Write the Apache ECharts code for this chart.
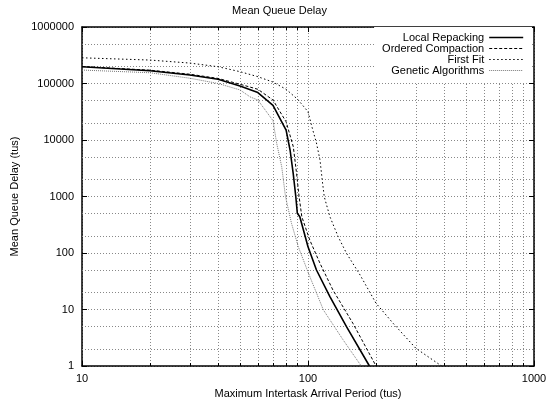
<!DOCTYPE html>
<html>
<head>
<meta charset="utf-8">
<script src="https://cdn.jsdelivr.net/npm/echarts@6/dist/echarts.min.js"></script>
<style>
  html, body { margin: 0; padding: 0; background: #fff; }
  #main { width: 559px; height: 408px; }
</style>
</head>
<body>
<div id="main"></div>
<script>
// values (log-log)
var seriesNames = ['Local Repacking', 'Ordered Compaction', 'First Fit', 'Genetic Algorithms'];

var localX = [10, 20, 30, 40, 50, 60, 70, 80, 83.3, 86, 88.3, 89.7, 92, 100, 109, 125, 148, 187];
var localY = [198000, 168000, 141000, 119000, 90000, 69000, 41000, 15000, 6650, 2570, 1000, 505, 439, 129, 50, 16.9, 4.96, 1];

var orderedX = [10, 20, 30, 40, 50, 60, 70, 80, 86.1, 89, 91.3, 93.9, 101.8, 113, 129, 158, 200];
var orderedY = [200000, 172000, 146000, 123000, 97000, 79000, 51000, 21000, 7600, 2570, 1000, 439, 170, 65.6, 22, 5.7, 1];

var firstFitX = [10, 20, 30, 40, 50, 60, 70, 80, 90, 100, 105, 109, 113, 116, 118, 125, 136, 148, 170, 200, 238, 300, 390];
var firstFitY = [285000, 260000, 230000, 198000, 162000, 132000, 106000, 79000, 52500, 31700, 15000, 8850, 4420, 1730, 991, 439, 194, 99, 40.8, 12.9, 5.7, 2.06, 1];

var geneticX = [10, 20, 30, 40, 50, 55.4, 60, 70, 72.7, 76.5, 79.5, 84.5, 90.6, 100.5, 117, 143, 172];
var geneticY = [173000, 155000, 124000, 100000, 77000, 58000, 51000, 22000, 8700, 3370, 1000, 336, 129, 43.7, 9.8, 2.9, 1];

// minor grid values on the y axis (2 and 5 of each decade)
var yMinorGrid = [2, 5, 20, 50, 200, 500, 2000, 5000, 20000, 50000, 200000, 500000];

function pairs(xs, ys) {
  return xs.map(function (x, i) { return [x, ys[i]]; });
}

var myChart = echarts.init(document.getElementById('main'), null, { renderer: 'canvas' });

var font = 'Liberation Sans, Arial, sans-serif';
var gridLine = { color: '#888', width: 1, type: [1, 2] };

function logAxis(pos, min, max, split, show) {
  return {
    type: 'log',
    logBase: 10,
    position: pos,
    min: min,
    max: max,
    splitNumber: split,
    axisLine: { show: true, onZero: false, lineStyle: { color: '#000', width: 1.5 } },
    axisTick: { show: true, inside: true, length: 5, lineStyle: { color: '#000' } },
    axisLabel: {
      show: show,
      color: '#000',
      fontFamily: font,
      fontSize: 11,
      formatter: function (v) { return String(v); }
    },
    splitLine: { show: show, lineStyle: gridLine }
  };
}

var xBottom = logAxis('bottom', 10, 1000, 2, true);
xBottom.minorTick = { show: true, splitNumber: 9, length: 3, lineStyle: { color: '#000' } };
xBottom.minorSplitLine = { show: true, lineStyle: gridLine };
xBottom.name = 'Maximum Intertask Arrival Period (tus)';
xBottom.nameLocation = 'middle';
xBottom.nameGap = 20;
xBottom.nameTextStyle = { color: '#000', fontFamily: font, fontSize: 11 };
xBottom.axisLabel.margin = 7;

var xTop = logAxis('top', 10, 1000, 2, false);
xTop.minorTick = { show: true, splitNumber: 9, length: 3, lineStyle: { color: '#000' } };

var yLeft = logAxis('left', 1, 1000000, 6, true);
yLeft.name = 'Mean Queue Delay (tus)';
yLeft.nameLocation = 'middle';
yLeft.nameGap = 54;
yLeft.nameTextStyle = { color: '#000', fontFamily: font, fontSize: 11 };
yLeft.axisLabel.margin = 8;

var yRight = logAxis('right', 1, 1000000, 6, false);

var option = {
  animation: false,
  backgroundColor: '#fff',
  title: {
    text: 'Mean Queue Delay',
    left: 'center',
    top: 0,
    textStyle: { color: '#000', fontFamily: font, fontSize: 11, fontWeight: 'normal' }
  },
  grid: { left: 82, right: 25, top: 27, bottom: 42, containLabel: false },
  legend: {
    data: seriesNames,
    orient: 'vertical',
    align: 'right',
    right: 27,
    top: 27,
    padding: [5, 8, 6, 8],
    itemGap: 0,
    itemWidth: 34,
    itemHeight: 11,
    itemStyle: { opacity: 0 },
    lineStyle: { width: 'inherit' },
    backgroundColor: '#fff',
    textStyle: { color: '#000', fontFamily: font, fontSize: 11 },
    z: 10
  },
  xAxis: [xBottom, xTop],
  yAxis: [yLeft, yRight],
  series: [
    {
      name: 'grid-minor',
      type: 'line',
      data: [],
      silent: true,
      markLine: {
        silent: true,
        symbol: 'none',
        label: { show: false },
        lineStyle: gridLine,
        data: yMinorGrid.map(function (v) { return { yAxis: v }; })
      }
    },
    {
      name: seriesNames[0],
      type: 'line',
      showSymbol: false,
      symbol: 'none',
      data: pairs(localX, localY),
      lineStyle: { color: '#000', width: 1.6, type: 'solid' },
      itemStyle: { color: '#000' },
      z: 5
    },
    {
      name: seriesNames[1],
      type: 'line',
      showSymbol: false,
      symbol: 'none',
      data: pairs(orderedX, orderedY),
      lineStyle: { color: '#000', width: 1, type: [3, 2] },
      itemStyle: { color: '#000' },
      z: 5
    },
    {
      name: seriesNames[2],
      type: 'line',
      showSymbol: false,
      symbol: 'none',
      data: pairs(firstFitX, firstFitY),
      lineStyle: { color: '#000', width: 1, type: [1.5, 2.5] },
      itemStyle: { color: '#000' },
      z: 5
    },
    {
      name: seriesNames[3],
      type: 'line',
      showSymbol: false,
      symbol: 'none',
      data: pairs(geneticX, geneticY),
      lineStyle: { color: '#777', width: 1, type: [1, 1] },
      itemStyle: { color: '#777' },
      z: 5
    }
  ]
};

myChart.setOption(option);
window.addEventListener('resize', myChart.resize);
</script>
</body>
</html>
